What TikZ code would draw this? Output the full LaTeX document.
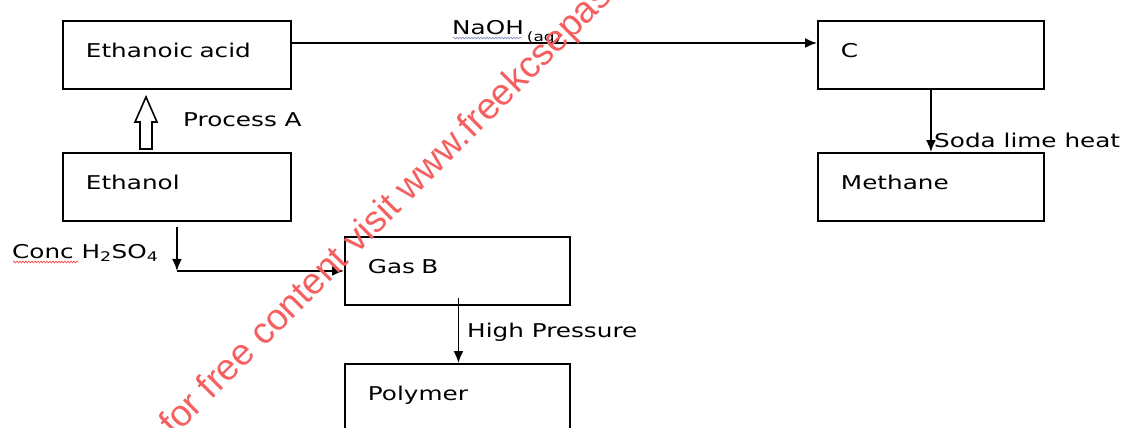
\documentclass[tikz,border=0pt]{standalone}
\usepackage{fontspec}
\setmainfont{DejaVu Sans}[FakeStretch=1.3]
\newfontfamily\wmfont{Liberation Sans}
\usetikzlibrary{arrows.meta,calc,decorations.pathmorphing}
\definecolor{wmred}{RGB}{245,95,95}
\definecolor{squig}{RGB}{140,150,190}
\begin{document}
\begin{tikzpicture}[x=1pt,y=-1pt,
  every node/.style={font=\fontsize{19}{22}\selectfont},
  box/.style={draw, line width=1.9pt, rectangle, anchor=north west,
    inner xsep=23pt, inner ysep=0pt, text width=#1, align=left,
    minimum height=68pt, text height=15pt, text depth=9pt},
  arr/.style={line width=1.8pt, -{Latex[length=12pt,width=10pt]}},
  lbl/.style={anchor=base west, inner sep=0pt},
  wm/.style={anchor=base west, inner sep=0pt, text=wmred,
    font=\wmfont\fontsize{37}{42}\selectfont},
  squiggle/.style={line width=0.7pt, decorate,
    decoration={snake, amplitude=0.9pt, segment length=3pt}}
]
\clip (0,0) rectangle (1122,428);
\fill[white] (0,0) rectangle (1122,428);

% boxes
\node[box=182pt] (eacid) at (62,20) {Ethanoic acid};
\node[box=182pt] (ethanol) at (62,152) {Ethanol};
\node[box=180pt] (c) at (817,20) {C};
\node[box=180pt] (methane) at (817,152) {Methane};
\node[box=179pt] (gasb) at (344,236) {Gas B};
\node[box=179pt] (polymer) at (344,363) {Polymer};

% Ethanoic acid -> C
\draw[arr] ([yshift=-23pt]eacid.north east) -- ([yshift=-23pt]c.north west);
\node[lbl] (naoh) at (452,35) {NaOH\,\raisebox{-6pt}{\fontsize{13}{13}\selectfont (aq)}};
\draw[squiggle, squig] (453,38) -- (522,38);

% C -> Methane
\draw[arr] (c.south) -- (methane.north);
\node[lbl] (soda) at (934,147) {Soda lime heat};

% Ethanol -> Ethanoic acid (hollow block arrow)
\draw[line width=1.6pt, fill=white]
  ($(ethanol.north west)+(78,-3)$) -- ++(0,-27) -- ++(-5,0) -- ++(11,-25)
  -- ++(11,25) -- ++(-5,0) -- ++(0,27) -- cycle;
\node[lbl] (procA) at (183,126) {Process A};

% Ethanol -> Gas B
\coordinate (bend) at (ethanol.south |- gasb.west);
\draw[arr] ([yshift=-5pt]ethanol.south) -- (bend);
\draw[arr] (bend) -- (gasb.west);
\node[lbl] (conc) at (12,258) {Conc H\textsubscript{2}SO\textsubscript{4}};
\draw[squiggle, red!70] (13,262) -- (78,262);

% Gas B -> Polymer
\draw[arr] ([xshift=1pt,yshift=8pt]gasb.south) -- ([xshift=1pt]gasb.south |- polymer.north);
\node[lbl] (hp) at (467,337) {High Pressure};

% watermark
\node[wm, rotate=45] (wmark) at (174,438) {for free content visit www.freekcsepastpapers.com};
\end{tikzpicture}
\end{document}
